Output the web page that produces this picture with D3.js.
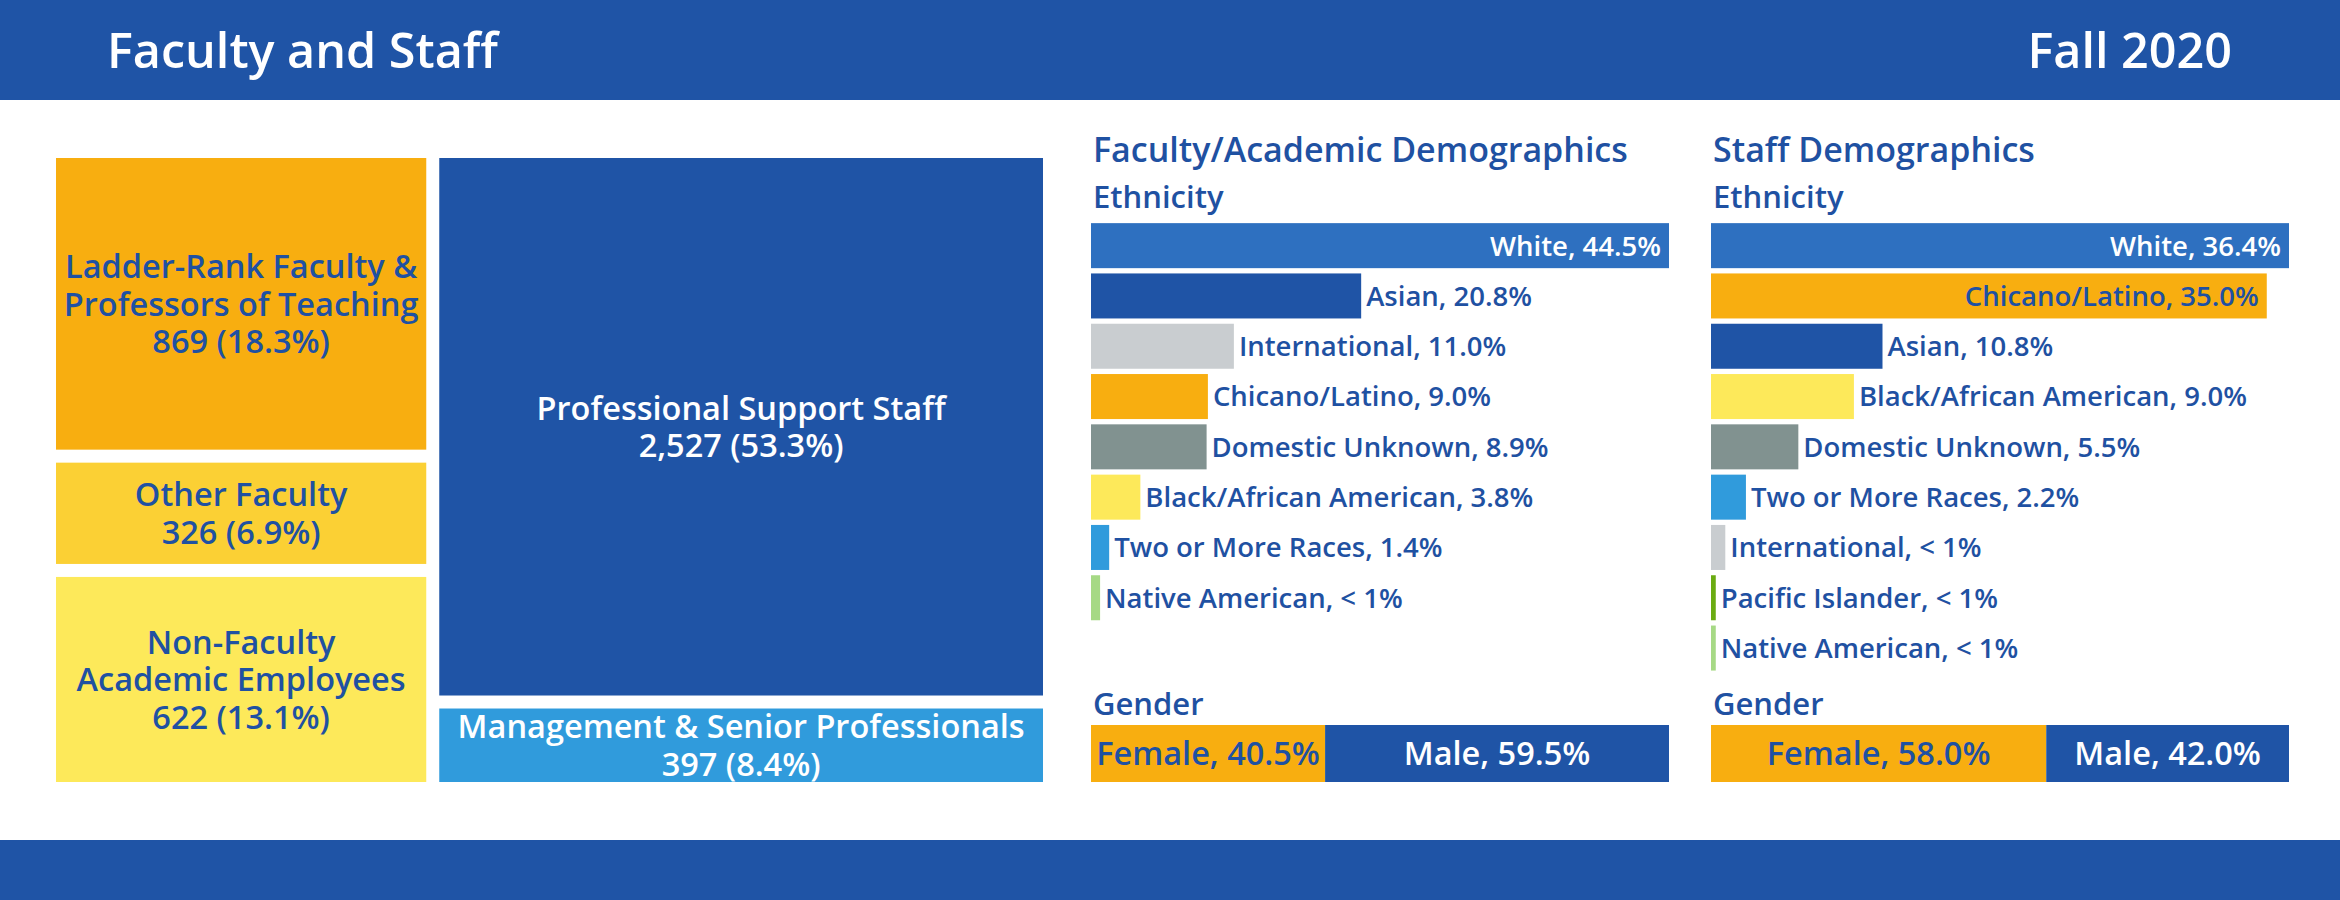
<!DOCTYPE html>
<html>
<head>
<meta charset="utf-8">
<script src="https://cdn.jsdelivr.net/npm/d3@7"></script>
<style>
  body { margin: 0; background: #fff; }
  svg { display: block; font-family: "Open Sans", "Noto Sans", sans-serif; }
</style>
</head>
<body>
<svg width="2340" height="900"></svg>
<script>
// headcount treemap
const groupNames = ["Faculty/Academic", "Staff"];
const unitGroups = ["Faculty/Academic", "Faculty/Academic", "Faculty/Academic", "Staff", "Staff"];
const unitLabels = [
  ["Ladder-Rank Faculty &", "Professors of Teaching"],
  ["Other Faculty"],
  ["Non-Faculty", "Academic Employees"],
  ["Professional Support Staff"],
  ["Management & Senior Professionals"]
];
const unitCounts = [869, 326, 622, 2527, 397];

// ethnicity, percent of headcount
const facultyEthnicity = ["White", "Asian", "International", "Chicano/Latino", "Domestic Unknown",
  "Black/African American", "Two or More Races", "Native American"];
const facultyEthnicityPct = [44.5, 20.8, 11.0, 9.0, 8.9, 3.8, 1.4, 0.7];

const staffEthnicity = ["White", "Chicano/Latino", "Asian", "Black/African American", "Domestic Unknown",
  "Two or More Races", "International", "Pacific Islander", "Native American"];
const staffEthnicityPct = [36.4, 35.0, 10.8, 9.0, 5.5, 2.2, 0.9, 0.3, 0.3];

// gender
const genders = ["Female", "Male"];
const facultyGenderPct = [40.5, 59.5];
const staffGenderPct = [58.0, 42.0];

const blue = "#1f54a6";
const textBlue = "#1f51a2";

const unitFill = d3.scaleOrdinal()
  .domain([0, 1, 2, 3, 4])
  .range(["#f8ae10", "#fbd034", "#fde95a", blue, "#309bdc"]);
const unitText = i => (i >= 3 ? "#fff" : textBlue);

const ethnicityFill = d3.scaleOrdinal()
  .domain(["White", "Asian", "International", "Chicano/Latino", "Domestic Unknown",
    "Black/African American", "Two or More Races", "Native American", "Pacific Islander"])
  .range(["#2e70c0", blue, "#c9cdd0", "#f8ae10", "#819290", "#fde95a", "#309bdc", "#a6d985", "#6aab12"]);
const insideText = c => (c === "White" || c === "Asian" ? "#fff" : textBlue);

const genderFill = d3.scaleOrdinal().domain(genders).range(["#f8ae10", blue]);
const genderText = d3.scaleOrdinal().domain(genders).range([textBlue, "#fff"]);

const svg = d3.select("svg");
const width = +svg.attr("width");
const height = +svg.attr("height");

// banners
svg.append("rect").attr("width", width).attr("height", 100).attr("fill", blue);
svg.append("rect").attr("y", 840).attr("width", width).attr("height", height - 840).attr("fill", blue);

svg.append("text")
  .attr("x", 107).attr("y", 68)
  .attr("fill", "#fff").attr("font-size", 48.5).attr("font-weight", 600)
  .text("Faculty and Staff");

svg.append("text")
  .attr("x", 2232).attr("y", 68)
  .attr("text-anchor", "end")
  .attr("fill", "#fff").attr("font-size", 48.5).attr("font-weight", 600)
  .text("Fall 2020");

// ---- treemap ----
const total = d3.sum(unitCounts);
const pct = d3.format(".1%");
const comma = d3.format(",");

const tree = {
  children: groupNames.map(g => ({
    name: g,
    children: unitCounts
      .map((c, i) => ({ i, value: c }))
      .filter(d => unitGroups[d.i] === g)
  }))
};

const root = d3.hierarchy(tree).sum(d => d.value || 0);
d3.treemap()
  .tile(d3.treemapSliceDice)
  .size([987, 624])
  .paddingInner(13)(root);

const treeG = svg.append("g").attr("transform", "translate(56,158)");

const cells = treeG.selectAll("g.cell")
  .data(root.leaves())
  .join("g")
  .attr("class", "cell")
  .attr("transform", d => `translate(${d.x0},${d.y0})`);

cells.append("rect")
  .attr("width", d => d.x1 - d.x0)
  .attr("height", d => d.y1 - d.y0)
  .attr("fill", d => unitFill(d.data.i));

// one text per cell, one tspan per line
cells.each(function (d) {
  const i = d.data.i;
  const lines = unitLabels[i].concat(`${comma(unitCounts[i])} (${pct(unitCounts[i] / total)})`);
  const lh = 37.5;
  const cx = (d.x1 - d.x0) / 2;
  const cy = (d.y1 - d.y0) / 2 - ((lines.length - 1) * lh) / 2;
  d3.select(this).append("text")
    .attr("text-anchor", "middle")
    .attr("font-size", 32.5)
    .attr("font-weight", 600)
    .attr("fill", unitText(i))
    .selectAll("tspan")
    .data(lines)
    .join("tspan")
    .attr("x", cx)
    .attr("y", (t, k) => cy + k * lh)
    .attr("dy", "0.36em")
    .text(t => t);
});

// ---- demographics panels ----
const barWidth = 578;
const barTop = 220.5;
const barStep = 50.3;

const demographics = (selection, props) => {
  const { title, categories, values, genderValues } = props;

  selection.append("text")
    .attr("x", 2).attr("y", 162)
    .attr("fill", textBlue).attr("font-size", 34).attr("font-weight", 600)
    .text(title);

  selection.append("text")
    .attr("x", 2).attr("y", 208)
    .attr("fill", textBlue).attr("font-size", 31).attr("font-weight", 600)
    .text("Ethnicity");

  const x = d3.scaleLinear().domain([0, d3.max(values)]).range([0, barWidth]);
  const y = d3.scaleBand()
    .domain(categories)
    .range([barTop, barTop + categories.length * barStep])
    .paddingInner(0.105)
    .paddingOuter(0.0525);

  const rows = categories.map((c, i) => ({ c, v: values[i] }));
  const inside = d => x(d.v) > barWidth * 0.6;
  const label = d => `${d.c}, ${d.v < 1 ? "< 1%" : d3.format(".1f")(d.v) + "%"}`;

  const bars = selection.selectAll("g.bar")
    .data(rows)
    .join("g")
    .attr("class", "bar")
    .attr("transform", d => `translate(0,${y(d.c)})`);

  bars.append("rect")
    .attr("width", d => x(d.v))
    .attr("height", y.bandwidth())
    .attr("fill", d => ethnicityFill(d.c));

  bars.append("text")
    .attr("x", d => (inside(d) ? x(d.v) - 8 : x(d.v) + 5))
    .attr("y", y.bandwidth() / 2)
    .attr("dy", "0.36em")
    .attr("text-anchor", d => (inside(d) ? "end" : "start"))
    .attr("font-size", 27.5)
    .attr("font-weight", 600)
    .attr("fill", d => (inside(d) ? insideText(d.c) : textBlue))
    .text(label);

  // gender
  selection.append("text")
    .attr("x", 2).attr("y", 715)
    .attr("fill", textBlue).attr("font-size", 31).attr("font-weight", 600)
    .text("Gender");

  const gx = d3.scaleLinear().domain([0, 100]).range([0, barWidth]);
  const starts = d3.cumsum([0].concat(genderValues.slice(0, -1)));
  const segs = genders.map((g, i) => ({ g, v: genderValues[i], s: starts[i] }));

  const gG = selection.append("g").attr("transform", "translate(0,725)");
  gG.selectAll("rect")
    .data(segs)
    .join("rect")
    .attr("x", d => gx(d.s))
    .attr("width", d => gx(d.v))
    .attr("height", 57)
    .attr("fill", d => genderFill(d.g));

  gG.selectAll("text")
    .data(segs)
    .join("text")
    .attr("x", d => gx(d.s + d.v / 2))
    .attr("y", 28.5)
    .attr("dy", "0.36em")
    .attr("text-anchor", "middle")
    .attr("font-size", 32.5)
    .attr("font-weight", 600)
    .attr("fill", d => genderText(d.g))
    .text(d => `${d.g}, ${d3.format(".1f")(d.v)}%`);
};

svg.append("g")
  .attr("transform", "translate(1091,0)")
  .call(demographics, {
    title: "Faculty/Academic Demographics",
    categories: facultyEthnicity,
    values: facultyEthnicityPct,
    genderValues: facultyGenderPct
  });

svg.append("g")
  .attr("transform", "translate(1711,0)")
  .call(demographics, {
    title: "Staff Demographics",
    categories: staffEthnicity,
    values: staffEthnicityPct,
    genderValues: staffGenderPct
  });
</script>
</body>
</html>
